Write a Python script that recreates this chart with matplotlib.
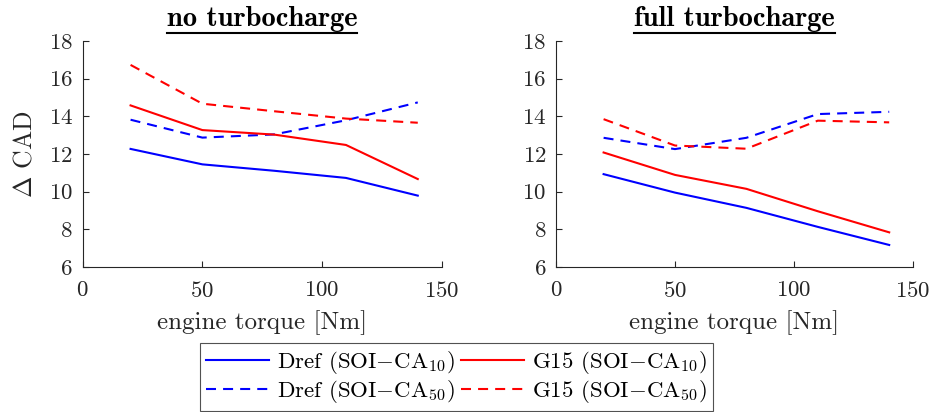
import matplotlib
matplotlib.use("Agg")
import matplotlib.pyplot as plt
from matplotlib.lines import Line2D

plt.rcParams['font.family'] = ['cmr10']
plt.rcParams['mathtext.fontset'] = 'cm'
plt.rcParams['axes.formatter.use_mathtext'] = True
plt.rcParams['axes.unicode_minus'] = False

torque = [20, 50, 80, 110, 140]

# no turbocharge
nt_dref_ca10 = [12.27, 11.45, 11.11, 10.73, 9.79]
nt_g15_ca10 = [14.58, 13.27, 13.03, 12.48, 10.67]
nt_dref_ca50 = [13.82, 12.87, 13.04, 13.79, 14.74]
nt_g15_ca50 = [16.73, 14.67, 14.27, 13.88, 13.66]

# full turbocharge
ft_dref_ca10 = [10.93, 9.95, 9.14, 8.13, 7.17]
ft_g15_ca10 = [12.08, 10.89, 10.15, 8.96, 7.84]
ft_dref_ca50 = [12.86, 12.26, 12.86, 14.12, 14.24]
ft_g15_ca50 = [13.85, 12.45, 12.28, 13.77, 13.68]

titles = ["no turbocharge", "full turbocharge"]
labels = [r"Dref (SOI$-$CA$_{10}$)", r"Dref (SOI$-$CA$_{50}$)",
          r"G15 (SOI$-$CA$_{10}$)", r"G15 (SOI$-$CA$_{50}$)"]
xticks = [0, 50, 100, 150]
yticks = [6, 8, 10, 12, 14, 16, 18]

W, H = 936, 412
fig = plt.figure(figsize=(W / 100, H / 100), dpi=100)
axc = (0.15, 0.15, 0.15)
dash = (0, (4.8, 3.4))
lw = 1.5

ax1 = fig.add_axes([82.7 / W, (H - 267) / H, 359 / W, 226 / H])
ax2 = fig.add_axes([556 / W, (H - 267) / H, 357 / W, 226 / H])

data = [
    (nt_dref_ca10, nt_dref_ca50, nt_g15_ca10, nt_g15_ca50),
    (ft_dref_ca10, ft_dref_ca50, ft_g15_ca10, ft_g15_ca50),
]

handles = []
for i, (ax, d) in enumerate(zip([ax1, ax2], data)):
    h1, = ax.plot(torque, d[0], color='#0000ff', lw=lw, ls='-')
    h2, = ax.plot(torque, d[1], color='#0000ff', lw=lw, ls=dash)
    h3, = ax.plot(torque, d[2], color='#ff0000', lw=lw, ls='-')
    h4, = ax.plot(torque, d[3], color='#ff0000', lw=lw, ls=dash)
    if i == 0:
        handles = [h1, h2, h3, h4]
    ax.set_xlim(0, 150)
    ax.set_ylim(6, 18)
    ax.set_xticks(xticks)
    ax.set_yticks(yticks)
    ax.spines['top'].set_visible(False)
    ax.spines['right'].set_visible(False)
    for s in ['left', 'bottom']:
        ax.spines[s].set_color(axc)
        ax.spines[s].set_linewidth(0.8)
    ax.tick_params(direction='in', length=4, width=0.8, colors=axc,
                   labelsize=16.5, labelcolor=axc)
    ax.tick_params(axis='x', pad=10)
    ax.tick_params(axis='y', pad=7)
    ax.set_xlabel("engine torque [Nm]", fontsize=18, color=axc, labelpad=7)
    ax.set_title(titles[i], fontsize=20.5, family='cmb10', pad=11)

ax1.set_ylabel(r"$\Delta$ CAD", fontsize=18.5, color=axc, labelpad=9)

leg = fig.legend(handles, labels, ncol=2, loc='lower center',
                 bbox_to_anchor=(456.5 / W, 1 / H), fontsize=16.5,
                 frameon=True, fancybox=False, edgecolor=axc,
                 handlelength=2.75, handletextpad=0.35, columnspacing=0.3,
                 borderpad=0.25, labelspacing=0.12, borderaxespad=0)
leg.get_frame().set_linewidth(0.8)

# underline titles
fig.canvas.draw()
r = fig.canvas.get_renderer()
for ax in [ax1, ax2]:
    bb = ax.title.get_window_extent(r)
    y = bb.y0 - 1
    fig.add_artist(Line2D([bb.x0 / W, bb.x1 / W], [y / H, y / H],
                          transform=fig.transFigure, color='black', lw=1.5))

fig.savefig("out.png", dpi=100)
